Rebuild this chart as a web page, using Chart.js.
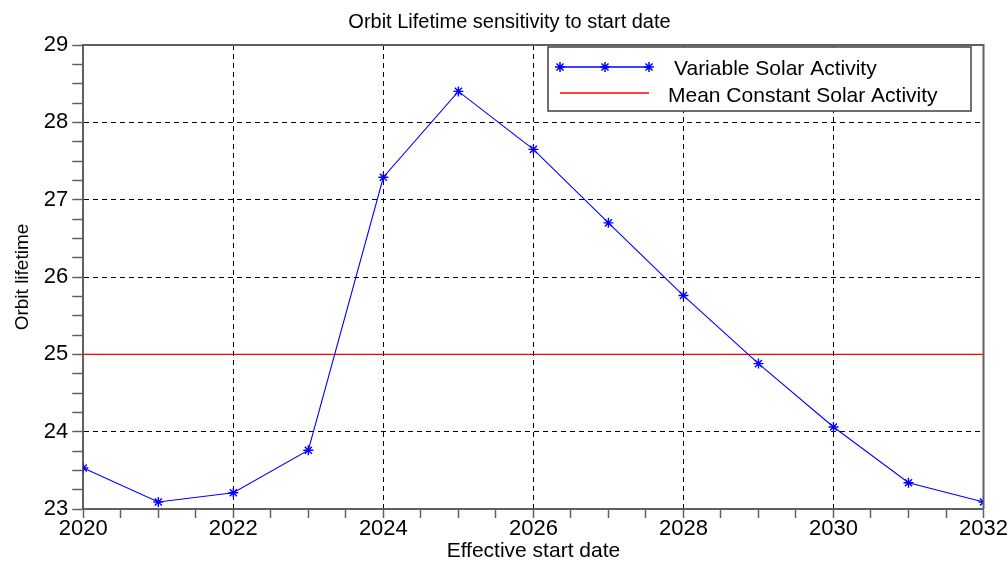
<!DOCTYPE html>
<html>
<head>
<meta charset="utf-8">
<script src="https://cdn.jsdelivr.net/npm/chart.js@4"></script>
<style>
  html, body { margin: 0; padding: 0; background: #fff; }
  #wrap { width: 1008px; height: 562px; }
</style>
</head>
<body>
<div id="wrap"><canvas id="orbitChart" width="1008" height="562"></canvas></div>
<script>
const years = [2020, 2021, 2022, 2023, 2024, 2025, 2026, 2027, 2028, 2029, 2030, 2031, 2032];
const variableLifetime = [23.53, 23.09, 23.21, 23.76, 27.29, 28.40, 27.65, 26.70, 25.76, 24.88, 24.06, 23.34, 23.09];
const meanYears = [2020, 2032];
const meanLifetime = [25, 25];
const xMajorTicks = [2020, 2022, 2024, 2026, 2028, 2030, 2032];
const yMajorTicks = [23, 24, 25, 26, 27, 28, 29];

const axisGray = '#606060';
const fontFamily = '"Liberation Sans", Arial, sans-serif';

// frame on top and right, plus the boxed legend
const framePlugin = {
    id: 'frame',
    afterDraw(chart) {
        const ctx = chart.ctx;
        const a = chart.chartArea;
        ctx.save();
        ctx.strokeStyle = axisGray;
        ctx.lineWidth = 2;
        ctx.beginPath();
        ctx.moveTo(a.left, a.top);
        ctx.lineTo(a.right, a.top);
        ctx.lineTo(a.right, a.bottom);
        ctx.stroke();

        // legend box
        const bx = Math.round(a.right - 436), by = Math.round(a.top + 2), bw = 423, bh = 64;
        ctx.fillStyle = '#fff';
        ctx.fillRect(bx, by, bw, bh);
        ctx.strokeStyle = '#404040';
        ctx.lineWidth = 1.5;
        ctx.strokeRect(bx, by, bw, bh);

        const ds = chart.data.datasets;
        // first entry: blue line with star markers
        const y1 = by + 20;
        ctx.strokeStyle = ds[0].borderColor;
        ctx.lineWidth = 1.5;
        ctx.beginPath();
        ctx.moveTo(bx + 12, y1);
        ctx.lineTo(bx + 101, y1);
        ctx.stroke();
        [bx + 12, bx + 57, bx + 101].forEach(px => {
            Chart.helpers.drawPoint(ctx, { pointStyle: 'star', radius: 5, borderWidth: 1.5 }, px, y1);
        });
        // second entry: red line
        const y2 = by + 46;
        ctx.strokeStyle = ds[1].borderColor;
        ctx.lineWidth = 1.5;
        ctx.beginPath();
        ctx.moveTo(bx + 12, y2);
        ctx.lineTo(bx + 101, y2);
        ctx.stroke();

        ctx.fillStyle = '#000';
        ctx.font = '21px ' + fontFamily;
        ctx.textBaseline = 'middle';
        ctx.fillText(ds[0].label, bx + 126, y1 + 2);
        ctx.fillText(ds[1].label, bx + 120, y2 + 3);
        ctx.restore();
    }
};

const isMajor = (list, v) => list.some(m => Math.abs(m - v) < 1e-6);

new Chart(document.getElementById('orbitChart'), {
    type: 'line',
    data: {
        datasets: [
            {
                label: 'Variable Solar Activity',
                data: years.map((y, i) => ({ x: y, y: variableLifetime[i] })),
                borderColor: '#0000ff',
                backgroundColor: '#0000ff',
                borderWidth: 1.1,
                pointStyle: 'star',
                pointRadius: 5,
                pointBorderWidth: 1.4,
                pointBorderColor: '#0000ff',
                fill: false,
                tension: 0
            },
            {
                label: 'Mean Constant Solar Activity',
                data: meanYears.map((y, i) => ({ x: y, y: meanLifetime[i] })),
                borderColor: '#ff0000',
                borderWidth: 1.4,
                pointRadius: 0,
                fill: false
            }
        ]
    },
    options: {
        responsive: false,
        animation: false,
        layout: { padding: { top: 0, right: 0, left: 11, bottom: 0 } },
        plugins: {
            legend: { display: false },
            tooltip: { enabled: false },
            title: {
                display: true,
                text: 'Orbit Lifetime sensitivity to start date',
                color: '#000',
                font: { family: fontFamily, size: 20, weight: 'normal', lineHeight: 1.2 },
                padding: { top: 10, bottom: 11 }
            }
        },
        scales: {
            x: {
                type: 'linear',
                min: 2020,
                max: 2032,
                ticks: {
                    stepSize: 0.5,
                    autoSkip: false,
                    maxRotation: 0,
                    color: '#000',
                    padding: 0,
                    font: { family: fontFamily, size: 22, lineHeight: 1 },
                    callback: v => isMajor(xMajorTicks, v) ? String(v) : ''
                },
                grid: {
                    drawOnChartArea: true,
                    color: c => (c.tick && isMajor(xMajorTicks, c.tick.value) && c.tick.value !== 2020 && c.tick.value !== 2032) ? '#000' : 'rgba(0,0,0,0)',
                    tickColor: axisGray,
                    tickLength: 9,
                    tickWidth: 1.5
                },
                border: { color: axisGray, width: 2, dash: [5, 4] },
                title: {
                    display: true,
                    text: 'Effective start date',
                    color: '#000',
                    font: { family: fontFamily, size: 21, lineHeight: 1 },
                    padding: { top: 1, bottom: 0 }
                }
            },
            y: {
                min: 23,
                max: 29,
                ticks: {
                    stepSize: 0.25,
                    autoSkip: false,
                    color: '#000',
                    padding: 4,
                    font: { family: fontFamily, size: 22 },
                    callback: v => isMajor(yMajorTicks, v) ? String(v) : ''
                },
                grid: {
                    // the 25 line is covered by the mean red line
                    color: c => (c.tick && isMajor(yMajorTicks, c.tick.value) && ![23, 25, 29].includes(c.tick.value)) ? '#000' : 'rgba(0,0,0,0)',
                    tickColor: axisGray,
                    tickLength: 11,
                    tickWidth: 1.5
                },
                border: { color: axisGray, width: 2, dash: [5, 4] },
                title: {
                    display: true,
                    text: 'Orbit lifetime',
                    color: '#000',
                    font: { family: fontFamily, size: 19 },
                    padding: { top: 0, bottom: 6 }
                }
            }
        }
    },
    plugins: [framePlugin]
});
</script>
</body>
</html>
